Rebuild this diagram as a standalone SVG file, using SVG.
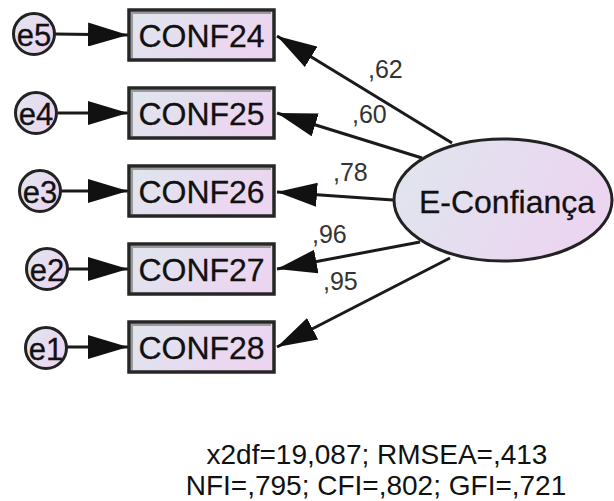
<svg xmlns="http://www.w3.org/2000/svg" width="614" height="501" viewBox="0 0 614 501">
  <defs>
    <linearGradient id="fillGrad" x1="0" y1="0" x2="1" y2="0.3">
      <stop offset="0" stop-color="#dfe6ee"/>
      <stop offset="1" stop-color="#ecd5f1"/>
    </linearGradient>
    <marker id="head" viewBox="0 0 40 24" refX="40" refY="12" markerWidth="40" markerHeight="24" markerUnits="userSpaceOnUse" orient="auto">
      <path d="M0,0 L40,12 L0,24 z" fill="#111"/>
    </marker>
    <style>
      .box { fill: url(#fillGrad); stroke: #262626; stroke-width: 3.5; }
      .shade { fill: none; stroke: #9a9a9a; stroke-width: 2; }
      .err { fill: url(#fillGrad); stroke: #222; stroke-width: 3; }
      .lat { fill: url(#fillGrad); stroke: #222; stroke-width: 3; }
      .lbl { font-family: "Liberation Sans", Arial, sans-serif; font-size: 32px; fill: #111; stroke: #111; stroke-width: 0.3; text-anchor: middle; }
      .elbl { font-family: "Liberation Sans", Arial, sans-serif; font-size: 31px; fill: #111; stroke: #111; stroke-width: 0.3; text-anchor: middle; }
      .coef { font-family: "Liberation Sans", Arial, sans-serif; font-size: 25px; fill: #333; }
      .fit { font-family: "Liberation Sans", Arial, sans-serif; font-size: 28px; fill: #111; text-anchor: middle; }
      .path { stroke: #1a1a1a; stroke-width: 3; fill: none; marker-end: url(#head); }
    </style>
  </defs>
  <rect width="614" height="501" fill="#fff"/>

  <!-- connectors -->
  <g id="connectors">
    <line class="path" x1="55" y1="34" x2="128" y2="35"/>
    <line class="path" x1="58" y1="113" x2="128" y2="113"/>
    <line class="path" x1="61" y1="191" x2="128" y2="191"/>
    <line class="path" x1="68" y1="269" x2="128" y2="269"/>
    <line class="path" x1="67" y1="347" x2="128" y2="347"/>

    <line class="path" x1="452" y1="143" x2="277" y2="36"/>
    <line class="path" x1="422" y1="158" x2="277" y2="113"/>
    <line class="path" x1="393" y1="200" x2="277" y2="192"/>
    <line class="path" x1="420" y1="242" x2="277" y2="269"/>
    <line class="path" x1="450" y1="258" x2="277" y2="347"/>
  </g>

  <!-- path coefficients -->
  <g id="coefficients">
    <text class="coef" x="368" y="78">,62</text>
    <text class="coef" x="352" y="123">,60</text>
    <text class="coef" x="333" y="181">,78</text>
    <text class="coef" x="312" y="243">,96</text>
    <text class="coef" x="323" y="290">,95</text>
  </g>

  <!-- observed indicators -->
  <g id="CONF24">
    <rect class="box" x="129" y="10" width="145" height="50"/>
    <path class="shade" d="M132,58 V13 H271"/>
    <text class="lbl" x="201.5" y="47">CONF24</text>
  </g>
  <g id="CONF25">
    <rect class="box" x="129" y="88" width="145" height="50"/>
    <path class="shade" d="M132,136 V91 H271"/>
    <text class="lbl" x="201.5" y="125">CONF25</text>
  </g>
  <g id="CONF26">
    <rect class="box" x="129" y="166" width="145" height="50"/>
    <path class="shade" d="M132,214 V169 H271"/>
    <text class="lbl" x="201.5" y="203">CONF26</text>
  </g>
  <g id="CONF27">
    <rect class="box" x="129" y="244" width="145" height="50"/>
    <path class="shade" d="M132,292 V247 H271"/>
    <text class="lbl" x="201.5" y="281">CONF27</text>
  </g>
  <g id="CONF28">
    <rect class="box" x="129" y="322" width="145" height="50"/>
    <path class="shade" d="M132,370 V325 H271"/>
    <text class="lbl" x="201.5" y="359">CONF28</text>
  </g>

  <!-- error terms -->
  <g id="e5">
    <circle class="err" cx="34" cy="34" r="20.5"/>
    <text class="elbl" x="34" y="46">e5</text>
  </g>
  <g id="e4">
    <circle class="err" cx="36" cy="113" r="20.5"/>
    <text class="elbl" x="36" y="125">e4</text>
  </g>
  <g id="e3">
    <circle class="err" cx="40" cy="191" r="20.5"/>
    <text class="elbl" x="40" y="203">e3</text>
  </g>
  <g id="e2">
    <circle class="err" cx="47" cy="269" r="20.5"/>
    <text class="elbl" x="47" y="281">e2</text>
  </g>
  <g id="e1">
    <circle class="err" cx="46" cy="348" r="20.5"/>
    <text class="elbl" x="46" y="360">e1</text>
  </g>

  <!-- latent factor -->
  <g id="E-Confianca">
    <ellipse class="lat" cx="503" cy="200" rx="109" ry="61"/>
    <text class="lbl" x="507" y="213">E-Confiança</text>
  </g>

  <!-- fit indices -->
  <g id="fit">
    <text class="fit" x="377" y="464">x2df=19,087; RMSEA=,413</text>
    <text class="fit" x="376" y="495">NFI=,795; CFI=,802; GFI=,721</text>
  </g>
</svg>
